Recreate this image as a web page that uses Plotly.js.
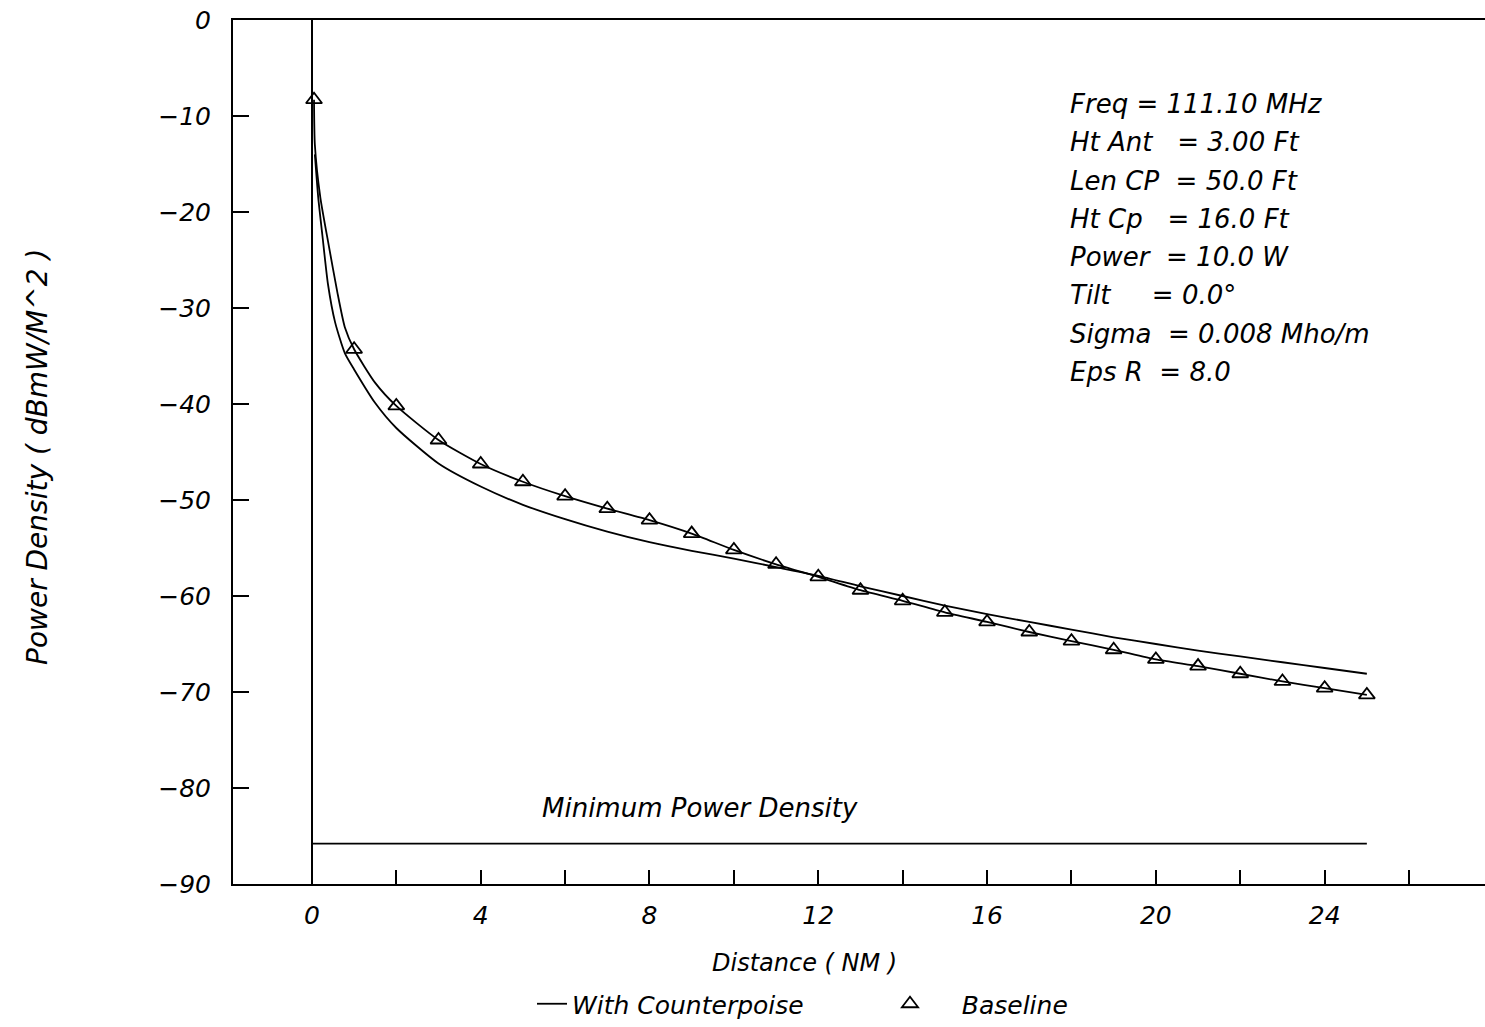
<!DOCTYPE html>
<html>
<head>
<meta charset="utf-8">
<script src="https://cdn.plot.ly/plotly-3.0.1.min.js"></script>
<style>html,body{margin:0;padding:0;background:#fff;}#chart{width:1485px;height:1027px;}</style>
</head>
<body>
<div id="chart"></div>
<script>
// With Counterpoise (solid line)
const cpX = [0.07, 0.15, 0.25, 0.38, 0.55, 0.78, 1, 1.5, 2, 3, 4, 5, 6, 7, 8, 9, 10, 11, 12, 13, 14, 15, 16, 17, 18, 19, 20, 21, 22, 23, 24, 25];
const cpY = [-14, -18.5, -22.5, -27.5, -31.5, -34.7, -36.4, -39.9, -42.5, -46.2, -48.6, -50.5, -52.0, -53.3, -54.4, -55.3, -56.1, -57.0, -57.9, -59.0, -60.0, -61.0, -61.9, -62.7, -63.5, -64.3, -65.0, -65.7, -66.3, -66.9, -67.5, -68.1];

// Baseline line (through the triangles)
const blLineX = [0.05, 0.07, 0.2, 0.4, 0.6, 0.78, 1, 1.5, 2, 3, 4, 5, 6, 7, 8, 9, 10, 11, 12, 13, 14, 15, 16, 17, 18, 19, 20, 21, 22, 23, 24, 25];
const blLineY = [-8.3, -13, -18.5, -23.5, -28.3, -32.0, -34.3, -37.8, -40.2, -43.75, -46.25, -48.1, -49.6, -50.9, -52.1, -53.5, -55.2, -56.7, -58.0, -59.4, -60.5, -61.7, -62.7, -63.75, -64.7, -65.6, -66.6, -67.3, -68.1, -68.9, -69.6, -70.3];

// Baseline triangle markers
const blX = [0.05, 1, 2, 3, 4, 5, 6, 7, 8, 9, 10, 11, 12, 13, 14, 15, 16, 17, 18, 19, 20, 21, 22, 23, 24, 25];
const blY = [-8.3, -34.3, -40.2, -43.75, -46.25, -48.1, -49.6, -50.9, -52.1, -53.5, -55.2, -56.7, -58.0, -59.4, -60.5, -61.7, -62.7, -63.75, -64.7, -65.6, -66.6, -67.3, -68.1, -68.9, -69.6, -70.3];

// Minimum power density
const minX = [0, 25];
const minY = [-85.8, -85.8];

const xTickVals = [0, 4, 8, 12, 16, 20, 24];
const xTickText = ['0', '4', '8', '12', '16', '20', '24'];
const yTickVals = [0, -10, -20, -30, -40, -50, -60, -70, -80, -90];

const NB = '\u00a0';
const paramLabels = [
  'Freq' + NB + '= 111.10 MHz',
  'Ht Ant' + NB + NB + NB + '= 3.00 Ft',
  'Len CP' + NB + NB + '= 50.0 Ft',
  'Ht Cp' + NB + NB + NB + '= 16.0 Ft',
  'Power' + NB + NB + '= 10.0 W',
  'Tilt' + NB + NB + NB + NB + NB + '= 0.0°',
  'Sigma' + NB + NB + '= 0.008 Mho/m',
  'Eps R' + NB + NB + '= 8.0'
];

const FONT = 'DejaVu Sans';
const fnt = (s) => ({family: FONT, size: s, color: '#000', style: 'italic'});

const traces = [
  {x: cpX, y: cpY, mode: 'lines', name: 'With Counterpoise', line: {color: '#000', width: 1.8, shape: 'spline', smoothing: 0.6}},
  {x: blX, y: blY, mode: 'markers', name: NB + NB + NB + NB + 'Baseline',
   marker: {symbol: 'triangle-up-open', size: 14, color: '#000', line: {color: '#000', width: 1.8}}},
  {x: blLineX, y: blLineY, mode: 'lines', showlegend: false, line: {color: '#000', width: 1.8, shape: 'spline', smoothing: 0.6}},
  {x: minX, y: minY, mode: 'lines', showlegend: false, line: {color: '#000', width: 1.8}}
];

const annotations = [
  {x: 9.2, y: -82.1, xref: 'x', yref: 'y', xanchor: 'center', yanchor: 'middle', text: 'Minimum Power Density', showarrow: false, font: fnt(26)},
  {x: (804 - 233) / 1252, y: (884 - 963) / 864, xref: 'paper', yref: 'paper', xanchor: 'center', yanchor: 'middle', text: 'Distance ( NM )', showarrow: false, font: fnt(24)},
  {x: (38 - 233) / 1252, y: (884 - 457) / 864, xref: 'paper', yref: 'paper', xanchor: 'center', yanchor: 'middle', text: 'Power Density ( dBmW/M^2 )', textangle: -90, showarrow: false, font: fnt(28)}
];
paramLabels.forEach((t, i) => {
  annotations.push({
    x: (1068 - 233) / 1252, y: 1 - (104 - 20 + i * 38.3) / 864, xref: 'paper', yref: 'paper',
    xanchor: 'left', yanchor: 'middle', text: t, showarrow: false, font: fnt(26)
  });
});

const layout = {
  width: 1485, height: 1027,
  margin: {l: 233, r: 0, t: 20, b: 143},
  paper_bgcolor: '#fff', plot_bgcolor: '#fff',
  showlegend: true,
  legend: {orientation: 'h', x: (532 - 233) / 1252, xanchor: 'left', y: (884 - 1004) / 864, yanchor: 'middle',
           entrywidth: 313, entrywidthmode: 'pixels', font: fnt(25), bgcolor: 'rgba(0,0,0,0)'},
  xaxis: {
    range: [-1.87, 27.8], tickmode: 'array', tickvals: xTickVals, ticktext: xTickText,
    ticks: 'inside', ticklen: 14, tickwidth: 2, tickcolor: '#000',
    minor: {tickmode: 'linear', tick0: 0, dtick: 2, ticks: 'inside', ticklen: 14, tickwidth: 2, tickcolor: '#000'},
    showline: true, linecolor: '#000', linewidth: 2, mirror: true,
    showgrid: false, zeroline: true, zerolinecolor: '#000', zerolinewidth: 2,
    tickfont: fnt(25), ticklabelstandoff: 8
  },
  yaxis: {
    range: [-90, 0], tickmode: 'array', tickvals: yTickVals,
    ticks: 'inside', ticklen: 16, tickwidth: 2, tickcolor: '#000',
    showline: true, linecolor: '#000', linewidth: 2,
    showgrid: false, zeroline: false,
    tickfont: fnt(25), ticklabelstandoff: 15
  },
  annotations: annotations
};

Plotly.newPlot('chart', traces, layout, {displayModeBar: false, staticPlot: true});
</script>
</body>
</html>
